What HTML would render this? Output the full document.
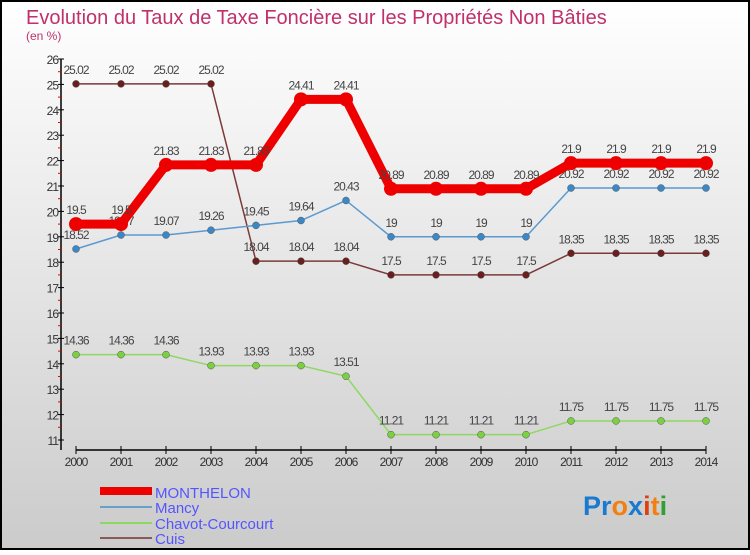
<!DOCTYPE html>
<html><head><meta charset="utf-8"><style>
html,body{margin:0;padding:0;}
body{width:750px;height:550px;overflow:hidden;font-family:"Liberation Sans",sans-serif;}
</style></head><body>
<svg id="chart" width="750" height="550" xmlns="http://www.w3.org/2000/svg" font-family="Liberation Sans, sans-serif">
<defs><linearGradient id="bg" x1="0" y1="0" x2="0" y2="1"><stop offset="0" stop-color="#ffffff"/><stop offset="1" stop-color="#cbcbcb"/></linearGradient></defs>
<rect x="1" y="1" width="748" height="548" fill="url(#bg)" stroke="#000" stroke-width="2"/>
<text x="26" y="24" font-size="20" fill="#c0306a">Evolution du Taux de Taxe Foncière sur les Propriétés Non Bâties</text>
<text x="26" y="40" font-size="12" fill="#c0306a">(en %)</text>
<g id="axes"></g><g id="series"></g>
<g>
<rect x="100" y="487" width="52" height="8" fill="#e00"/>
<text x="155" y="498" font-size="15" fill="#5555ff">MONTHELON</text>
<rect x="100" y="506" width="52" height="2" fill="#6a9fc8"/>
<text x="155" y="513" font-size="15" fill="#5555ff">Mancy</text>
<rect x="100" y="522" width="52" height="2" fill="#8fd860"/>
<text x="155" y="529" font-size="15" fill="#5555ff">Chavot-Courcourt</text>
<rect x="100" y="537" width="52" height="2" fill="#8a5a5a"/>
<text x="155" y="544" font-size="15" fill="#5555ff">Cuis</text>
</g>
<text x="583" y="515" font-size="27" font-weight="bold"><tspan fill="#1a7ad0">Pr</tspan><tspan fill="#f08010">o</tspan><tspan fill="#1a7ad0">x</tspan><tspan fill="#e04010">i</tspan><tspan fill="#f08010">t</tspan><tspan fill="#30a030">i</tspan></text>
</svg>
<script>
const years=[2000,2001,2002,2003,2004,2005,2006,2007,2008,2009,2010,2011,2012,2013,2014];
const monthelon=[19.5,19.5,21.83,21.83,21.83,24.41,24.41,20.89,20.89,20.89,20.89,21.9,21.9,21.9,21.9];
const mancy=[18.52,19.07,19.07,19.26,19.45,19.64,20.43,19,19,19,19,20.92,20.92,20.92,20.92];
const chavot=[14.36,14.36,14.36,13.93,13.93,13.93,13.51,11.21,11.21,11.21,11.21,11.75,11.75,11.75,11.75];
const cuis=[25.02,25.02,25.02,25.02,18.04,18.04,18.04,17.5,17.5,17.5,17.5,18.35,18.35,18.35,18.35];
const yTicks=[11,12,13,14,15,16,17,18,19,20,21,22,23,24,25,26];
const NS="http://www.w3.org/2000/svg";
const yMin=11,yMax=26;
function xs(i){return 76+i*45;}
function ys(v){return 59+(yMax-v)*(381/(yMax-yMin));}
function mk(tag,attrs,parent){const e=document.createElementNS(NS,tag);for(const k in attrs)e.setAttribute(k,attrs[k]);parent.appendChild(e);return e;}
const ax=document.getElementById('axes');
let l=mk('line',{x1:61,y1:ys(yMax),x2:61,y2:ys(yMin)+10,stroke:'#000','stroke-width':1.5},ax);


yTicks.forEach(t=>{
 const tk=mk('line',{x1:58,y1:ys(t),x2:64,y2:ys(t),stroke:'#000'},ax);
 
 
 if(t<yMax){const m=mk('line',{x1:58,y1:ys(t+0.5),x2:61,y2:ys(t+0.5),stroke:'#e00'},ax);
 
 }
 const tx=mk('text',{x:58,y:ys(t)+5,'font-size':12,fill:'#333','text-anchor':'end','letter-spacing':'-1'},ax);
 tx.textContent=t;
 
 
});
l=mk('line',{x1:xs(0),y1:450,x2:xs(years.length-1),y2:450,stroke:'#000','stroke-width':1.5},ax);


years.forEach((y,i)=>{
 const tk=mk('line',{x1:xs(i),y1:446,x2:xs(i),y2:454,stroke:'#000'},ax);
 
 
 const tx=mk('text',{x:xs(i),y:466,'font-size':12,fill:'#333','text-anchor':'middle','letter-spacing':'-1'},ax);
 tx.textContent=y;
 
 
});
const sg=document.getElementById('series');
function drawSeries(name,vals,color,w,r,ptColor){
 const g=mk('g',{},sg);
 
 
 const p=mk('polyline',{points:vals.map((v,i)=>xs(i)+','+ys(v)).join(' '),fill:'none',stroke:color,'stroke-width':w,'stroke-linejoin':'round'},g);
 
 
 vals.forEach((v,i)=>{
  const c=mk('circle',{cx:xs(i),cy:ys(v),r:r,fill:ptColor,stroke:'#555','stroke-width':r>5?0:0.5},g);
  
  
  const t=mk('text',{x:xs(i),y:ys(v)-10,'font-size':12,fill:'#444','text-anchor':'middle','letter-spacing':'-1'},g);
  t.textContent=v;
  
  
 });
}
drawSeries('cuis',cuis,'#7a3a3a',1.5,3.5,'#6a1f1f');
drawSeries('chavot-courcourt',chavot,'#8fd860',1.5,3.5,'#7ad040');
drawSeries('mancy',mancy,'#5a9ad0',1.5,3.5,'#3a88c8');
drawSeries('monthelon',monthelon,'#ee0000',9,7,'#ee0000');
</script>
</body></html>
